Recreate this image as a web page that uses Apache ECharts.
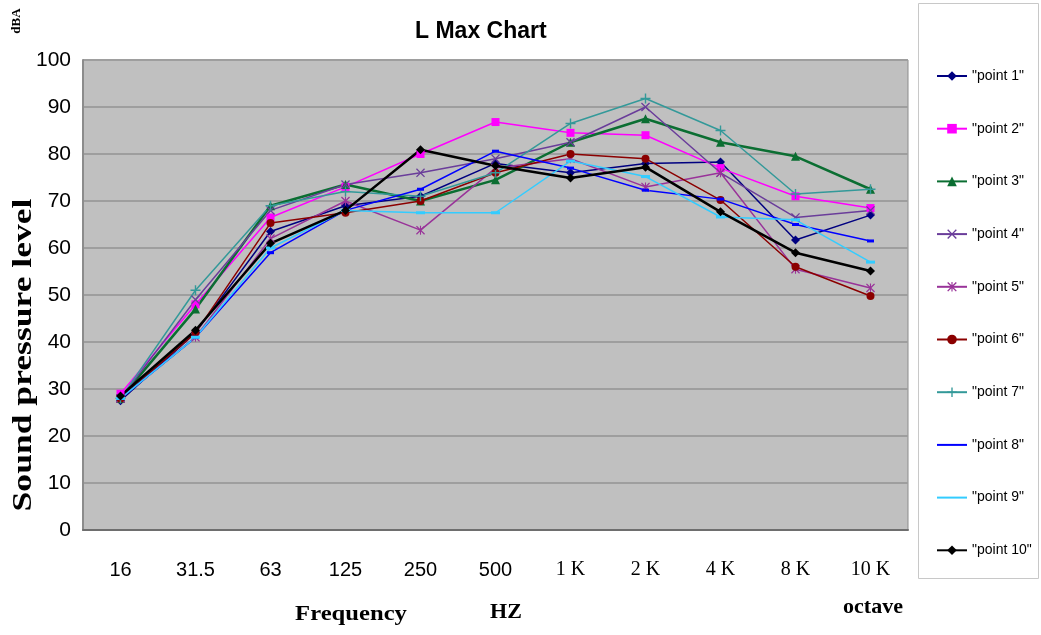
<!DOCTYPE html>
<html>
<head>
<meta charset="utf-8">
<script src="https://cdn.jsdelivr.net/npm/echarts@6/dist/echarts.min.js"></script>
<style>
  html, body { margin: 0; padding: 0; background: #fff; }
  #chart { width: 1041px; height: 635px; }
</style>
</head>
<body>
<div id="chart"></div>
<script>
// octave band centres
const frequencies = ['16', '31.5', '63', '125', '250', '500', '1 K', '2 K', '4 K', '8 K', '10 K']

const point1  = [27.5, 42, 63.5, 69, 71, 78, 76, 78, 78.3, 61.7, 67]
const point2  = [29, 48, 66.5, 73, 80, 86.8, 84.5, 84, 77, 71, 68.5]
const point3  = [28, 47, 69, 73.5, 70, 74.5, 82.5, 87.5, 82.5, 79.5, 72.5]
const point4  = [28, 49, 68, 73.5, 76, 79, 82.5, 90, 76, 66.5, 68]
const point5  = [28, 41, 62, 70, 63.8, 77, 79, 73, 76, 55.5, 51.5]
const point6  = [28, 42, 65.3, 67.5, 70, 76, 80, 79, 70.2, 56, 49.8]
const point7  = [28, 51, 69, 72, 71, 76, 86.5, 91.8, 85, 71.5, 72.5]
const point8  = [28, 41, 59, 68, 72.5, 80.6, 77, 72.3, 70.4, 65, 61.5]
const point9  = [28, 41, 60, 68, 67.5, 67.5, 78.5, 75.2, 66.6, 66, 57]
const point10 = [28.5, 42.5, 61, 68, 80.9, 77.5, 74.9, 77.2, 67.7, 59, 55.1]

const yTicks = { min: 0, max: 100, step: 10 }

const X_MARK = 'path://M1,0L5,4L9,0L10,1L6,5L10,9L9,10L5,6L1,10L0,9L4,5L0,1Z'
const PLUS_MARK = 'path://M4.3,0h1.4v4.3h4.3v1.4h-4.3v4.3h-1.4v-4.3h-4.3v-1.4h4.3z'
const STAR_MARK = 'path://M1,0L5,4L9,0L10,1L6,5L10,9L9,10L5,6L1,10L0,9L4,5L0,1Z M4.4,0h1.2v10h-1.2z'
const DASH_MARK = 'path://M0,0h10v3h-10z'

const seriesDefs = [
  { name: '"point 1"',  data: point1,  color: '#000080', symbol: 'diamond', size: 9, width: 1.5 },
  { name: '"point 2"',  data: point2,  color: '#ff00ff', symbol: 'rect', size: 8, width: 1.5 },
  { name: '"point 3"',  data: point3,  color: '#0b6e32', symbol: 'triangle', size: 9, width: 2.5 },
  { name: '"point 4"',  data: point4,  color: '#6a3d9a', symbol: X_MARK, size: 9, width: 1.5 },
  { name: '"point 5"',  data: point5,  color: '#993399', symbol: STAR_MARK, size: 9, width: 1.5 },
  { name: '"point 6"',  data: point6,  color: '#8b0000', symbol: 'circle', size: 8, width: 1.5 },
  { name: '"point 7"',  data: point7,  color: '#339999', symbol: PLUS_MARK, size: 10, width: 1.5 },
  { name: '"point 8"',  data: point8,  color: '#0000ff', symbol: DASH_MARK, size: [7, 3], width: 1.5 },
  { name: '"point 9"',  data: point9,  color: '#33ccff', symbol: DASH_MARK, size: [9, 3], width: 1.5 },
  { name: '"point 10"', data: point10, color: '#000000', symbol: 'diamond', size: 9, width: 2.5 },
]

const serif = '"Liberation Serif", "DejaVu Serif", serif'
const narrow = '"Liberation Sans Narrow", "Liberation Sans", Arial, sans-serif'

const chart = echarts.init(document.getElementById('chart'))

chart.setOption({
  backgroundColor: '#fff',
  animation: false,
  grid: { left: 83, right: 133, top: 60, bottom: 105, show: true,
    backgroundColor: '#c0c0c0', borderColor: '#8c8c8c', borderWidth: 1 },
  legend: {
    orient: 'vertical', left: 931, top: 64,
    itemWidth: 30, itemHeight: 12, itemGap: 38.7,
    textStyle: { fontFamily: narrow, fontSize: 14, color: '#000' },
    data: seriesDefs.map(s => ({
      name: s.name,
      itemStyle: s.symbol === DASH_MARK ? { opacity: 0 } : undefined,
    })),
  },
  xAxis: {
    type: 'category',
    data: frequencies,
    boundaryGap: true,
    axisLine: { lineStyle: { color: '#6e6e6e', width: 2 } },
    axisTick: { length: 13, lineStyle: { color: '#c8c8c8' } },
    axisLabel: {
      margin: 30,
      formatter: v => v.includes('K') ? `{k|${v}}` : `{n|${v}}`,
      rich: {
        n: { fontFamily: narrow, fontSize: 20, color: '#000' },
        k: { fontFamily: serif, fontSize: 20, color: '#000' },
      },
    },
  },
  yAxis: {
    type: 'value',
    min: yTicks.min, max: yTicks.max, interval: yTicks.step,
    axisLine: { show: true, lineStyle: { color: '#8c8c8c', width: 2 } },
    axisTick: { show: false },
    axisLabel: { margin: 12, fontFamily: narrow, fontSize: 21, color: '#000' },
    splitLine: { lineStyle: { color: '#9e9e9e', width: 2 } },
  },
  graphic: [
    { type: 'rect', left: 918, top: 3, shape: { width: 120, height: 575 },
      style: { fill: '#fff', stroke: '#c8c8c8', lineWidth: 1 }, z: -1 },
    { type: 'text', left: 415, top: 20,
      style: { text: 'L Max Chart', font: `bold 23px ${narrow}`, fill: '#000' } },
    { type: 'text', x: 24, y: 355, rotation: Math.PI / 2, scaleX: 1.27,
      style: { text: 'Sound pressure level', font: `bold 28px ${serif}`, fill: '#000',
        align: 'center', verticalAlign: 'middle' } },
    { type: 'text', x: 17, y: 21, rotation: Math.PI / 2,
      style: { text: 'dBA', font: `bold 13px ${serif}`, fill: '#000',
        align: 'center', verticalAlign: 'middle' } },
    { type: 'text', x: 351, y: 614, scaleX: 1.12,
      style: { text: 'Frequency', font: `bold 22px ${serif}`, fill: '#000',
        align: 'center', verticalAlign: 'middle' } },
    { type: 'text', x: 506, y: 612,
      style: { text: 'HZ', font: `bold 22px ${serif}`, fill: '#000',
        align: 'center', verticalAlign: 'middle' } },
    { type: 'text', x: 873, y: 607,
      style: { text: 'octave', font: `bold 22px ${serif}`, fill: '#000',
        align: 'center', verticalAlign: 'middle' } },
  ],
  series: seriesDefs.map(s => ({
    name: s.name,
    type: 'line',
    data: s.data,
    symbol: s.symbol,
    symbolSize: s.size,
    showAllSymbol: true,
    itemStyle: { color: s.color },
    lineStyle: { color: s.color, width: s.width },
  })),
})
</script>
</body>
</html>
